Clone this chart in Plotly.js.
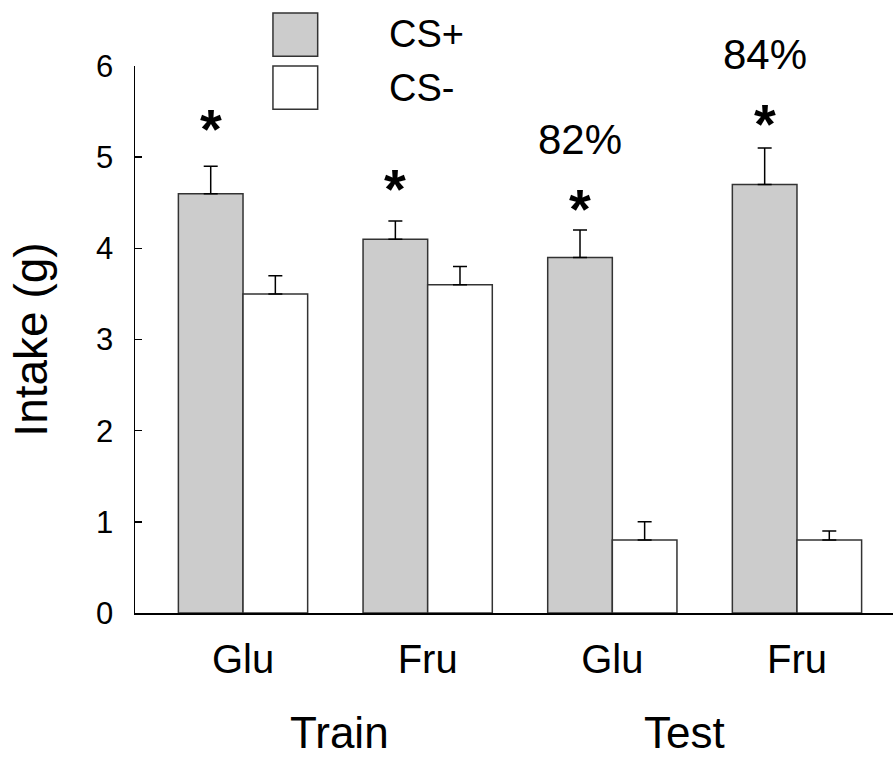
<!DOCTYPE html>
<html>
<head>
<meta charset="utf-8">
<script src="https://cdn.plot.ly/plotly-3.0.1.min.js"></script>
<style>html,body{margin:0;padding:0;background:#fff;}#chart{width:895px;height:758px;}</style>
</head>
<body>
<div id="chart"></div>
<script>
// ---- data ----
var groupPos = [0, 1, 2, 3];
var groupLabels = ["Glu", "Fru", "Glu", "Fru"];
var phaseLabels = ["Train", "Test"];
var csPlus = [4.6, 4.1, 3.9, 4.7];
var csPlusErr = [0.3, 0.2, 0.3, 0.4];
var csMinus = [3.5, 3.6, 0.8, 0.8];
var csMinusErr = [0.2, 0.2, 0.2, 0.1];
var sigMarks = ["*", "*", "*", "*"];
var percentLabels = ["", "", "82%", "84%"];
var seriesNames = ["CS+", "CS-"];

var FONT = "Liberation Sans, Arial, sans-serif";
var barW = 0.35;

var traces = [
  {type: "bar", name: seriesNames[0], x: groupPos, y: csPlus, offsetgroup: "a",
   marker: {color: "#cccccc", line: {color: "#333333", width: 1.5}},
   error_y: {type: "data", array: csPlusErr, symmetric: false, arrayminus: csPlusErr.map(function(){return 0;}), color: "#000", thickness: 1.5, width: 7}},
  {type: "bar", name: seriesNames[1], x: groupPos, y: csMinus, offsetgroup: "b",
   marker: {color: "#ffffff", line: {color: "#333333", width: 1.5}},
   error_y: {type: "data", array: csMinusErr, symmetric: false, arrayminus: csMinusErr.map(function(){return 0;}), color: "#000", thickness: 1.5, width: 7}}
];

var annotations = [];
var starGap = [44, 39, 28, 31];   // px from error-bar top to asterisk centre
for (var i = 0; i < groupPos.length; i++) {
  var barTop = csPlus[i] + csPlusErr[i];
  annotations.push({x: groupPos[i] - barW / 2, y: barTop, xref: "x", yref: "y", text: "<b>" + sigMarks[i] + "</b>",
    showarrow: false, yanchor: "bottom", yshift: starGap[i] - 40, font: {family: FONT, size: 56, color: "#000"}});
  if (percentLabels[i]) {
    annotations.push({x: groupPos[i] - barW / 2, y: barTop, xref: "x", yref: "y", text: percentLabels[i],
      showarrow: false, yanchor: "bottom", yshift: starGap[i] + 37, font: {family: FONT, size: 42, color: "#000"}});
  }
}
// phase labels (Train / Test)
annotations.push({x: 0.52, y: 0, xref: "x", yref: "paper", yshift: -119, text: phaseLabels[0], showarrow: false, yanchor: "middle", font: {family: FONT, size: 44, color: "#000"}});
annotations.push({x: 2.39, y: 0, xref: "x", yref: "paper", yshift: -119, text: phaseLabels[1], showarrow: false, yanchor: "middle", font: {family: FONT, size: 44, color: "#000"}});
// legend labels
annotations.push({x: 0.332, y: 1.058, xref: "paper", yref: "paper", text: seriesNames[0], showarrow: false, xanchor: "left", yanchor: "middle", font: {family: FONT, size: 38, color: "#000"}});
annotations.push({x: 0.332, y: 0.960, xref: "paper", yref: "paper", text: seriesNames[1], showarrow: false, xanchor: "left", yanchor: "middle", font: {family: FONT, size: 38, color: "#000"}});

var shapes = [
  {type: "rect", xref: "paper", yref: "paper", x0: 0.182, x1: 0.241, y0: 1.018, y1: 1.097, fillcolor: "#cccccc", line: {color: "#333333", width: 1.5}},
  {type: "rect", xref: "paper", yref: "paper", x0: 0.182, x1: 0.241, y0: 0.921, y1: 1.0, fillcolor: "#ffffff", line: {color: "#333333", width: 1.5}}
];

var layout = {
  width: 895, height: 758,
  margin: {l: 135, r: 2, t: 66, b: 145},
  paper_bgcolor: "#fff", plot_bgcolor: "#fff",
  showlegend: false,
  barmode: "group", bargap: 0.3, bargroupgap: 0,
  font: {family: FONT, color: "#000"},
  xaxis: {range: [-0.585, 3.52], tickvals: groupPos, ticktext: groupLabels, ticks: "",
    showline: true, linecolor: "#000", linewidth: 1.5, showgrid: false, zeroline: false,
    tickfont: {family: FONT, size: 40}, ticklabelstandoff: 10},
  yaxis: {range: [0, 6], tickvals: [0,1,2,3,4,5,6], ticks: "inside", ticklen: 7, tickwidth: 1.5, tickcolor: "#000",
    showline: true, linecolor: "#000", linewidth: 1.5, showgrid: false, zeroline: false,
    tickfont: {family: FONT, size: 31}, ticklabelstandoff: 14,
    title: {text: "Intake (g)", font: {family: FONT, size: 46}, standoff: 34}},
  annotations: annotations,
  shapes: shapes
};

Plotly.newPlot("chart", traces, layout, {displayModeBar: false, staticPlot: true});
</script>
</body>
</html>
